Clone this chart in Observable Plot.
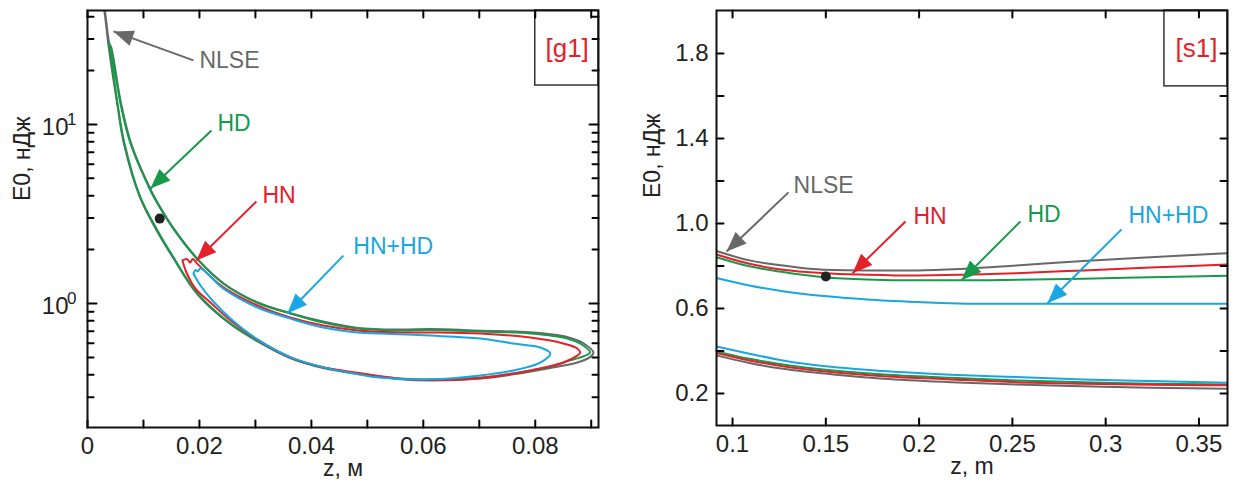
<!DOCTYPE html>
<html><head><meta charset="utf-8">
<script src="https://cdn.jsdelivr.net/npm/d3@7"></script>
<script src="https://cdn.jsdelivr.net/npm/@observablehq/plot@0.6"></script>
<style>
body{margin:0;background:#fff;}
#wrap{display:flex;width:1243px;height:488px;overflow:hidden;}
</style></head><body><div id="wrap"></div>
<script>
const FONT = "'Liberation Sans', Arial, sans-serif";
const COLORS = {"NLSE":"#686868","HD":"#17994b","HN":"#e4202a","HN+HD":"#19a6e2"};

const g1NLSE = [[0.0027,50],[0.0031,43.3],[0.0039,28.4],[0.00425,26.9],[0.006,13.1],[0.0078,7.83],[0.01135,4.28],[0.0126,3.62],[0.01565,2.56],[0.0199,1.74],[0.0244,1.29],[0.0305,1.01],[0.0364,0.88],[0.0423,0.79],[0.0483,0.73],[0.0559,0.715],[0.0613,0.72],[0.0702,0.705],[0.0791,0.69],[0.0857,0.65],[0.0886,0.6],[0.0904,0.532],[0.0899,0.505],[0.0875,0.468],[0.0825,0.435],[0.0761,0.402],[0.0702,0.381],[0.0613,0.372],[0.0559,0.378],[0.0482,0.404],[0.0421,0.436],[0.0362,0.496],[0.0303,0.617],[0.0255,0.768],[0.0196,1.13],[0.0153,1.8],[0.0124,2.54],[0.0094,3.9],[0.0065,7.83],[0.0053,13.1],[0.0038,26.9],[0.0030,43.3],[0.0026,50]];
const g1HD = [[0.00375,28.4],[0.00411,26.9],[0.00589,13.1],[0.00768,7.83],[0.01125,4.28],[0.0125,3.62],[0.01554,2.56],[0.01982,1.74],[0.02429,1.29],[0.03036,1.01],[0.03625,0.88],[0.04214,0.783],[0.04821,0.725],[0.05589,0.707],[0.06125,0.712],[0.07018,0.698],[0.07911,0.68],[0.08571,0.637],[0.08857,0.583],[0.08982,0.532],[0.08893,0.512],[0.08625,0.481],[0.08214,0.439],[0.07607,0.407],[0.07018,0.386],[0.06125,0.376],[0.05589,0.381],[0.04821,0.407],[0.04214,0.439],[0.03625,0.499],[0.03036,0.621],[0.02554,0.773],[0.01964,1.14],[0.01536,1.81],[0.0125,2.56],[0.00946,3.91],[0.00661,7.83],[0.00536,13.1],[0.00393,26.9],[0.00375,28.4]];
const g1HN = [[0.01696,1.74],[0.0178,1.77],[0.0183,1.69],[0.0188,1.77],[0.0196,1.67],[0.02429,1.23],[0.03036,0.975],[0.03625,0.835],[0.04214,0.753],[0.04821,0.707],[0.05589,0.689],[0.06125,0.689],[0.07018,0.68],[0.07911,0.645],[0.085,0.598],[0.0875,0.561],[0.08804,0.532],[0.0875,0.512],[0.085,0.468],[0.07911,0.423],[0.07018,0.383],[0.06125,0.374],[0.05589,0.38],[0.04821,0.41],[0.04214,0.44],[0.03625,0.5],[0.03036,0.628],[0.02554,0.804],[0.02196,1.013],[0.01929,1.21],[0.01768,1.49],[0.01696,1.74]];
const g1HNHD = [[0.01893,1.47],[0.0193,1.54],[0.0197,1.51],[0.02018,1.57],[0.02429,1.21],[0.03036,0.95],[0.03625,0.824],[0.04214,0.734],[0.04821,0.689],[0.05232,0.68],[0.06125,0.662],[0.07018,0.637],[0.07607,0.598],[0.08089,0.568],[0.08268,0.526],[0.08089,0.468],[0.07607,0.423],[0.07018,0.396],[0.06125,0.377],[0.05232,0.386],[0.04821,0.404],[0.04214,0.44],[0.03625,0.502],[0.03036,0.63],[0.02554,0.824],[0.02232,1.04],[0.02018,1.26],[0.01893,1.47]];
const g1ArrowNames = ["NLSE","HD","HN","HN+HD"];
const g1ArrowFrom = [[0.01893,22.8],[0.02214,9.26],[0.03018,3.71],[0.04571,1.85]];
const g1ArrowTo = [[0.00464,33.1],[0.01125,4.39],[0.01946,1.74],[0.03571,0.88]];
const g1TextAt = [[0.0200,22.8],[0.02321,10.06],[0.03125,4.01],[0.0475,2.08]];
const g1Point = [0.0129, 2.98];
const g1XTicks = [0,0.01,0.02,0.03,0.04,0.05,0.06,0.07,0.08,0.09];
const g1XLabels = [0,0.02,0.04,0.06,0.08];
const g1YMajor = [1,10];
const g1YMajorExp = ["0","1"];
const g1YMinor = [0.3,0.4,0.5,0.6,0.7,0.8,0.9,2,3,4,5,6,7,8,9,20,30,40];
const g1Tag = "[g1]";
const g1TagBox = [0.08, 16.5];
const g1TagAt = [0.0857, 26.6];

const s1ZUpper = [0.0914,0.109,0.127,0.149,0.172,0.199,0.225,0.252,0.288,0.324,0.3653];
const s1NLSEUpper = [0.870,0.826,0.802,0.782,0.779,0.779,0.787,0.802,0.823,0.841,0.860];
const s1HNUpper = [0.854,0.810,0.782,0.766,0.759,0.755,0.759,0.766,0.779,0.792,0.807];
const s1HDUpper = [0.841,0.798,0.771,0.747,0.736,0.732,0.732,0.735,0.740,0.747,0.754];
const s1HNHDUpper = [0.743,0.708,0.681,0.658,0.642,0.630,0.622,0.622,0.622,0.622,0.622];
const s1ZLower = [0.0914,0.109,0.127,0.154,0.181,0.217,0.252,0.288,0.324,0.3653];
const s1NLSELower = [0.379,0.343,0.316,0.289,0.269,0.253,0.242,0.234,0.227,0.222];
const s1HNLower = [0.390,0.355,0.328,0.300,0.281,0.266,0.253,0.246,0.241,0.238];
const s1HDLower = [0.398,0.363,0.336,0.308,0.289,0.274,0.261,0.253,0.246,0.242];
const s1HNHDLower = [0.421,0.387,0.355,0.324,0.305,0.288,0.277,0.266,0.258,0.250];
const s1ArrowNames = ["NLSE","HN","HD","HN+HD"];
const s1ArrowFrom = [[0.130,1.146],[0.1927,1.009],[0.2543,1.009],[0.3085,0.972]];
const s1ArrowTo = [[0.0968,0.868],[0.1643,0.765],[0.2227,0.732],[0.2688,0.624]];
const s1TextAt = [[0.1327,1.179],[0.197,1.033],[0.2581,1.042],[0.3122,1.035]];
const s1Point = [0.15, 0.75];
const s1XTicks = [0.1,0.15,0.2,0.25,0.3,0.35];
const s1YTicks = [0.2,0.4,0.6,0.8,1.0,1.2,1.4,1.6,1.8];
const s1YLabels = [0.2,0.6,1.0,1.4,1.8];
const s1Tag = "[s1]";
const s1TagBox = [0.3315, 1.645];
const s1TagAt = [0.3487, 1.824];

const zip = (xs, ys) => xs.map((x, i) => [x, ys[i]]);

const headSymbol = {draw(ctx) { const L = 20, W = 16; ctx.moveTo(0, 0); ctx.lineTo(-L, -W / 2); ctx.lineTo(-L, W / 2); ctx.closePath(); }};

function panel(cfg) {
  const {W, H, ml, mr, mt, mb, xDomain, yDomain, yType, lines, curve} = cfg;
  const xs = d3.scaleLinear(xDomain, [ml, W - mr]);
  const ys = (yType === "log" ? d3.scaleLog() : d3.scaleLinear()).domain(yDomain).range([H - mb, mt]);
  const arrows = cfg.arrowNames.map((s, i) => {
    const a = {s, x1: cfg.from[i][0], y1: cfg.from[i][1], x2: cfg.to[i][0], y2: cfg.to[i][1], tx: cfg.textAt[i][0], ty: cfg.textAt[i][1]};
    a.angle = Math.atan2(ys(a.y2) - ys(a.y1), xs(a.x2) - xs(a.x1)) * 180 / Math.PI;
    return a;
  });
  const yb = yDomain[0], yt = yDomain[1], xl = xDomain[0], xr = xDomain[1];
  const xTickRows = cfg.xTicks.flatMap(v => [
    {x: v, y1: yb, y2: ys.invert(ys(yb) - 7)},
    {x: v, y1: yt, y2: ys.invert(ys(yt) + 7)}
  ]);
  const yTickRows = [...cfg.yMajor.map(v => [v, cfg.yMajorLen]), ...(cfg.yMinor || []).map(v => [v, 6])].flatMap(([v, len]) => [
    {y: v, x1: xl, x2: xs.invert(xs(xl) + len)},
    {y: v, x1: xr, x2: xs.invert(xs(xr) - len)}
  ]);
  const marks = [];
  for (const ln of lines) {
    marks.push(Plot.line(ln.data, {x: d => d[0], y: d => d[1], stroke: COLORS[ln.s], strokeWidth: 2, curve, clip: true}));
  }
  marks.push(Plot.rect([cfg.tagBox], {x1: d => d[0], x2: () => xDomain[1], y1: d => d[1], y2: () => yDomain[1], stroke: "#333", strokeWidth: 1.5, fill: "none"}));
  marks.push(Plot.text([cfg.tagAt], {x: d => d[0], y: d => d[1], text: () => cfg.tag, fill: "#e4202a", fontSize: 26}));
  for (const a of arrows) {
    marks.push(Plot.link([a], {x1: "x1", y1: "y1", x2: "x2", y2: "y2", stroke: COLORS[a.s], strokeWidth: 2}));
    marks.push(Plot.dot([a], {x: "x2", y: "y2", symbol: headSymbol, rotate: a.angle, fill: COLORS[a.s], stroke: "none"}));
    marks.push(Plot.text([a], {x: "tx", y: "ty", text: () => a.s, textAnchor: "start", fill: COLORS[a.s], fontSize: 23}));
  }
  marks.push(Plot.dot([cfg.point], {x: d => d[0], y: d => d[1], r: 5, fill: "#222"}));
  // inward ticks drawn as short vertical / horizontal segments
  marks.push(Plot.line(xTickRows.flatMap((r, i) => [{x: r.x, y: r.y1, k: i}, {x: r.x, y: r.y2, k: i}]), {x: "x", y: "y", z: "k", stroke: "#000", strokeWidth: 2}));
  marks.push(Plot.line(yTickRows.flatMap((r, i) => [{x: r.x1, y: r.y, k: i}, {x: r.x2, y: r.y, k: i}]), {x: "x", y: "y", z: "k", stroke: "#000", strokeWidth: 2}));
  // tick labels
  marks.push(Plot.text(cfg.xLabels, {x: d => d, frameAnchor: "bottom", lineAnchor: "top", dy: 9, text: cfg.xFormat, fontSize: 24, fill: "#222"}));
  marks.push(...cfg.yLabelMarks);
  marks.push(Plot.text([cfg.xTitle], {frameAnchor: "bottom", dy: 48, text: d => d, fontSize: 23, fill: "#222"}));
  marks.push(Plot.text([cfg.yTitle], {frameAnchor: "left", dx: cfg.yTitleDx, dy: cfg.yTitleDy, rotate: -90, text: d => d, fontSize: 23, fill: "#222"}));
  marks.push(Plot.frame({stroke: "#111", strokeWidth: 2}));
  return Plot.plot({
    width: W, height: H, marginLeft: ml, marginRight: mr, marginTop: mt, marginBottom: mb,
    x: {domain: xDomain, axis: null},
    y: {type: yType, domain: yDomain, axis: null},
    style: {fontFamily: FONT, fontSize: "23px", background: "white", overflow: "visible"},
    marks
  });
}

const left = panel({
  W: 620, H: 488, ml: 87, mr: 22, mt: 10, mb: 61,
  xDomain: [0, 0.0913], yDomain: [0.203, 43.3], yType: "log", curve: "catmull-rom",
  lines: [{s: "NLSE", data: g1NLSE}, {s: "HD", data: g1HD}, {s: "HN", data: g1HN}, {s: "HN+HD", data: g1HNHD}],
  arrowNames: g1ArrowNames, from: g1ArrowFrom, to: g1ArrowTo, textAt: g1TextAt,
  point: g1Point, tag: g1Tag, tagBox: g1TagBox, tagAt: g1TagAt,
  xTicks: g1XTicks, xLabels: g1XLabels, xFormat: d => d === 0 ? "0" : d3.format(".2f")(d),
  yMajor: g1YMajor, yMajorLen: 9, yMinor: g1YMinor,
  yLabelMarks: [
    Plot.text(g1YMajor, {y: d => d, frameAnchor: "left", text: () => "10", textAnchor: "end", dx: -19, dy: 3, fontSize: 24, fill: "#222"}),
    Plot.text(g1YMajor, {y: d => d, frameAnchor: "left", text: (d, i) => g1YMajorExp[i], textAnchor: "end", dx: -11, dy: -5, fontSize: 17, fill: "#222"})
  ],
  xTitle: "z, м", yTitle: "E0, нДж", yTitleDx: -65, yTitleDy: -18
});

const right = panel({
  W: 623, H: 488, ml: 96, mr: 16, mt: 10, mb: 63,
  xDomain: [0.0914, 0.3653], yDomain: [0.049, 2.002], yType: "linear", curve: "monotone-x",
  lines: [
    {s: "NLSE", data: zip(s1ZUpper, s1NLSEUpper)}, {s: "NLSE", data: zip(s1ZLower, s1NLSELower)},
    {s: "HD", data: zip(s1ZUpper, s1HDUpper)}, {s: "HD", data: zip(s1ZLower, s1HDLower)},
    {s: "HN", data: zip(s1ZUpper, s1HNUpper)}, {s: "HN", data: zip(s1ZLower, s1HNLower)},
    {s: "HN+HD", data: zip(s1ZUpper, s1HNHDUpper)}, {s: "HN+HD", data: zip(s1ZLower, s1HNHDLower)}
  ],
  arrowNames: s1ArrowNames, from: s1ArrowFrom, to: s1ArrowTo, textAt: s1TextAt,
  point: s1Point, tag: s1Tag, tagBox: s1TagBox, tagAt: s1TagAt,
  xTicks: s1XTicks, xLabels: s1XTicks, xFormat: d => d3.format("~g")(d),
  yMajor: s1YTicks, yMajorLen: 7, yMinor: null,
  yLabelMarks: [
    Plot.text(s1YLabels, {y: d => d, frameAnchor: "left", text: d => d3.format(".1f")(d), textAnchor: "end", dx: -8, fontSize: 24, fill: "#222"})
  ],
  xTitle: "z, m", yTitle: "E0, нДж", yTitleDx: -64, yTitleDy: -20
});

document.getElementById("wrap").append(left, right);
</script></body></html>
